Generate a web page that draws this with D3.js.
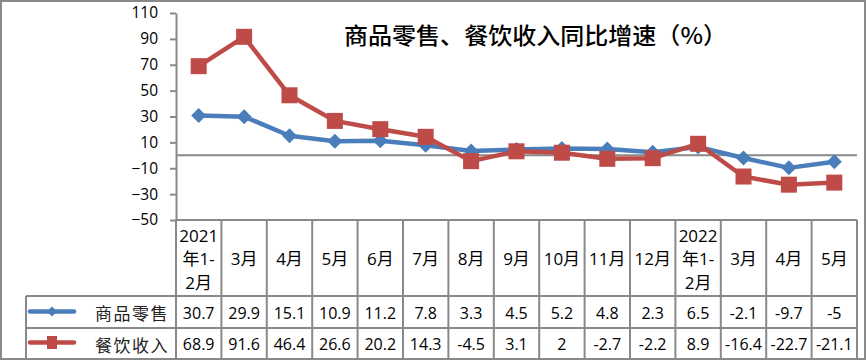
<!DOCTYPE html>
<html>
<head>
<meta charset="utf-8">
<script src="https://cdn.jsdelivr.net/npm/d3@7"></script>
<style>
  html, body { margin: 0; padding: 0; background: #fff; }
  svg { display: block; }
</style>
</head>
<body>
<svg id="chart" width="867" height="361"></svg>
<script>
// ---- data ----
const categories = [
  ["2021", "年1-", "2月"], ["3月"], ["4月"], ["5月"], ["6月"], ["7月"], ["8月"],
  ["9月"], ["10月"], ["11月"], ["12月"], ["2022", "年1-", "2月"], ["3月"], ["4月"], ["5月"]
];
const retailValues = [30.7, 29.9, 15.1, 10.9, 11.2, 7.8, 3.3, 4.5, 5.2, 4.8, 2.3, 6.5, -2.1, -9.7, -5];
const cateringValues = [68.9, 91.6, 46.4, 26.6, 20.2, 14.3, -4.5, 3.1, 2, -2.7, -2.2, 8.9, -16.4, -22.7, -21.1];
const yTicks = [-50, -30, -10, 10, 30, 50, 70, 90, 110];
const seriesNames = ["商品零售", "餐饮收入"];
const titleText = "商品零售、餐饮收入同比增速（%）";

// ---- layout ----
const W = 867, H = 361;
const plotL = 176, plotR = 857, plotT = 13, plotB = 220;
const hdrB = 296, row1B = 328, row2B = 359, legL = 26;
const gridColor = "#898989";
const blue = "#4a7ebb", red = "#be4b48";
const latin = "'Open Sans', 'Noto Sans CJK SC', sans-serif";

const svg = d3.select("#chart");

const x = d3.scaleBand().domain(d3.range(categories.length)).range([plotL, plotR]).padding(0);
const y = d3.scaleLinear().domain([-50, 110]).range([plotB, plotT]);

// outer border
svg.append("rect").attr("x", 1).attr("y", 1).attr("width", 864).attr("height", 358)
  .attr("fill", "#fff").attr("stroke", gridColor).attr("stroke-width", 2);

// y axis
const yAxis = d3.axisLeft(y).tickValues(yTicks).tickSize(6).tickSizeOuter(0).tickPadding(12);
const gy = svg.append("g").attr("transform", `translate(${plotL},0)`).call(yAxis);
gy.select(".domain").attr("stroke", gridColor).attr("stroke-width", 2);
gy.selectAll(".tick line").attr("stroke", gridColor).attr("stroke-width", 2);
gy.selectAll(".tick text").attr("font-family", latin).attr("font-size", 15.5).attr("fill", "#000");

// zero line
svg.append("line").attr("x1", plotL).attr("x2", plotR).attr("y1", y(0)).attr("y2", y(0))
  .attr("stroke", gridColor).attr("stroke-width", 2);

// title
svg.append("text").attr("x", 344).attr("y", 34).attr("dominant-baseline", "central")
  .attr("font-family", "'Noto Sans CJK SC', sans-serif").attr("font-weight", 500)
  .attr("font-size", 23).attr("textLength", 383).attr("lengthAdjust", "spacingAndGlyphs")
  .attr("fill", "#000").text(titleText);

// ---- table grid ----
const tg = svg.append("g").attr("stroke", gridColor).attr("stroke-width", 2);
// horizontal lines
tg.append("line").attr("x1", plotL).attr("x2", plotR).attr("y1", plotB).attr("y2", plotB);
[hdrB, row1B, row2B].forEach(yy => tg.append("line").attr("x1", legL).attr("x2", plotR).attr("y1", yy).attr("y2", yy));
// vertical lines
d3.range(categories.length + 1).forEach(i => {
  const xx = i < categories.length ? x(i) : plotR;
  tg.append("line").attr("x1", xx).attr("x2", xx).attr("y1", plotB).attr("y2", row2B);
});
tg.append("line").attr("x1", legL).attr("x2", legL).attr("y1", hdrB).attr("y2", row2B);

// header labels
const hdr = svg.append("g").attr("font-family", latin).attr("font-size", 17).attr("fill", "#000").attr("text-anchor", "middle");
categories.forEach((lines, i) => {
  const cx = x(i) + x.bandwidth() / 2;
  const starts = lines.length === 3 ? [235, 258.5, 282] : [258.5];
  lines.forEach((t, j) => {
    hdr.append("text").attr("x", cx).attr("y", starts[j]).attr("dominant-baseline", "central").text(t);
  });
});

// table values
const rowsY = [(hdrB + row1B) / 2, (row1B + row2B) / 2];
[retailValues, cateringValues].forEach((vals, r) => {
  svg.append("g").selectAll("text").data(vals).join("text")
    .attr("x", (d, i) => x(i) + x.bandwidth() / 2)
    .attr("y", rowsY[r] + 0.5)
    .attr("dominant-baseline", "central")
    .attr("text-anchor", "middle")
    .attr("font-family", latin).attr("font-size", 16).attr("fill", "#000")
    .text(d => d);
});

// ---- series lines ----
const line = d3.line().x((d, i) => x(i) + x.bandwidth() / 2).y(d => y(d));
const diamond = d3.symbol().type(d3.symbolDiamond2 || d3.symbolDiamond);

function drawDiamond(g, cx, cy, r) {
  g.append("path").attr("d", `M${cx},${cy - r}L${cx + r},${cy}L${cx},${cy + r}L${cx - r},${cy}Z`).attr("fill", blue);
}

svg.append("path").datum(retailValues).attr("d", line).attr("fill", "none")
  .attr("stroke", blue).attr("stroke-width", 4.5).attr("stroke-linejoin", "round");
const gb = svg.append("g");
retailValues.forEach((v, i) => drawDiamond(gb, x(i) + x.bandwidth() / 2, y(v), 7.5));

svg.append("path").datum(cateringValues).attr("d", line).attr("fill", "none")
  .attr("stroke", red).attr("stroke-width", 4.5).attr("stroke-linejoin", "round");
svg.append("g").selectAll("rect").data(cateringValues).join("rect")
  .attr("x", (d, i) => x(i) + x.bandwidth() / 2 - 8)
  .attr("y", d => y(d) - 8)
  .attr("width", 16).attr("height", 16).attr("fill", red);

// ---- legend ----
const legY = [311.5, 342.5];
svg.append("line").attr("x1", 30).attr("x2", 74).attr("y1", legY[0]).attr("y2", legY[0])
  .attr("stroke", blue).attr("stroke-width", 4.5).attr("stroke-linecap", "round");
drawDiamond(svg, 52, legY[0], 5);
svg.append("line").attr("x1", 30).attr("x2", 74).attr("y1", legY[1]).attr("y2", legY[1])
  .attr("stroke", red).attr("stroke-width", 4.5).attr("stroke-linecap", "round");
svg.append("rect").attr("x", 47).attr("y", legY[1] - 6.5).attr("width", 10).attr("height", 13).attr("fill", red);

seriesNames.forEach((n, i) => {
  svg.append("text").attr("x", 169).attr("y", rowsY[i] + 0.5).attr("dominant-baseline", "central")
    .attr("text-anchor", "end").attr("font-family", "'Noto Sans CJK SC', sans-serif")
    .attr("font-size", 17).attr("letter-spacing", 1.5).attr("fill", "#222").text(n);
});
</script>
</body>
</html>
